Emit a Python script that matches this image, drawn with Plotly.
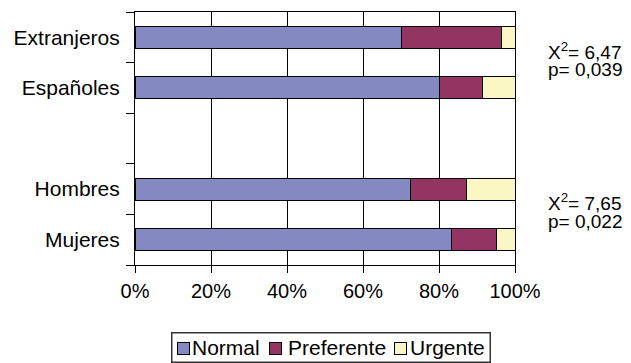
import plotly.graph_objects as go

# Stacked shares (%) of appointment priority per group
groups = ["Extranjeros", "Españoles", "Hombres", "Mujeres"]
normal = [70.0, 80.1, 72.6, 83.3]
preferente = [26.5, 11.3, 14.6, 11.8]
urgente = [3.5, 8.6, 12.8, 4.9]

# Category order along the y axis, bottom to top (blank slot separates the pairs)
y_order = ["Mujeres", "Hombres", " ", "Españoles", "Extranjeros"]

x_ticks = [0, 20, 40, 60, 80, 100]
x_tick_text = ["0%", "20%", "40%", "60%", "80%", "100%"]

# Chi-square results for each pair of groups
pairs = [("Extranjeros", "Españoles"), ("Hombres", "Mujeres")]
chi2 = ["6,47", "7,65"]
pvals = ["0,039", "0,022"]

FONT = "Liberation Sans, Arial, sans-serif"

series = [
    ("Normal", normal, "#8589C2"),
    ("Preferente", preferente, "#933462"),
    ("Urgente", urgente, "#FAF7C4"),
]

W, H = 631, 363
M_L, M_R, M_T, M_B = 135, 116, 12, 98
PW, PH = W - M_L - M_R, H - M_T - M_B


def px_x(px):
    """Figure pixel column -> paper x."""
    return (px - M_L) / PW


def px_y(py):
    """Figure pixel row -> paper y."""
    return (H - M_B - py) / PH


fig = go.Figure()
for name, vals, color in series:
    fig.add_trace(go.Bar(
        y=groups, x=vals, name=name, orientation="h",
        marker=dict(color=color, line=dict(color="black", width=1)),
        width=0.435, showlegend=False,
    ))

# Statistic labels to the right, centred between the two rows of each pair
for (a, b), c, p in zip(pairs, chi2, pvals):
    mid = (y_order.index(a) + y_order.index(b)) / 2
    for txt, shift in ((f"X<sup>2</sup>= {c}", 12), (f"p= {p}", -7)):
        fig.add_annotation(
            x=1.0, xref="paper", xshift=32, y=mid, yref="y", yshift=shift,
            xanchor="left", yanchor="middle", text=txt, showarrow=False,
            borderpad=0, font=dict(family=FONT, size=19, color="black"),
        )

# Legend: framed box with bordered colour swatches and labels
fig.add_annotation(
    x=px_x(330.5), y=px_y(347), xref="paper", yref="paper",
    xanchor="center", yanchor="middle", text=" ", showarrow=False,
    width=317, height=28, borderpad=0,
    bordercolor="#333333", borderwidth=1.5,
)
swatch_px = [183.5, 275.5, 400.5]
label_px = [191, 287, 409]
for (name, _, color), sx, lx in zip(series, swatch_px, label_px):
    fig.add_annotation(
        x=px_x(sx), y=px_y(348.5), xref="paper", yref="paper",
        xanchor="center", yanchor="middle", text=" ", showarrow=False,
        width=11, height=11, borderpad=0, bgcolor=color,
        bordercolor="black", borderwidth=1,
        font=dict(size=6),
    )
    fig.add_annotation(
        x=px_x(lx), y=px_y(348), xref="paper", yref="paper",
        xanchor="left", yanchor="middle", text=name, showarrow=False,
        borderpad=0, font=dict(family=FONT, size=21, color="black"),
    )

fig.update_layout(
    width=W, height=H,
    margin=dict(l=M_L, r=M_R, t=M_T, b=M_B),
    barmode="stack",
    plot_bgcolor="white", paper_bgcolor="white",
    font=dict(family=FONT, size=21, color="black"),
    showlegend=False,
    xaxis=dict(
        range=[0, 100], tickvals=x_ticks, ticktext=x_tick_text,
        tickfont=dict(family=FONT, size=20, color="black"),
        showgrid=True, gridcolor="black", gridwidth=1,
        showline=True, linecolor="black", linewidth=1, mirror=True,
        ticks="outside", ticklen=7, tickcolor="black",
        ticklabelstandoff=1,
        zeroline=False, fixedrange=True,
    ),
    yaxis=dict(
        type="category", categoryorder="array", categoryarray=y_order,
        range=[-0.5, 4.5],
        tickfont=dict(family=FONT, size=21, color="black"),
        showline=True, linecolor="black", linewidth=1, mirror=True,
        ticks="outside", ticklen=8, tickcolor="black", tickson="boundaries",
        ticklabelstandoff=10,
        showgrid=False, fixedrange=True,
    ),
)

fig.write_html("out.html")
